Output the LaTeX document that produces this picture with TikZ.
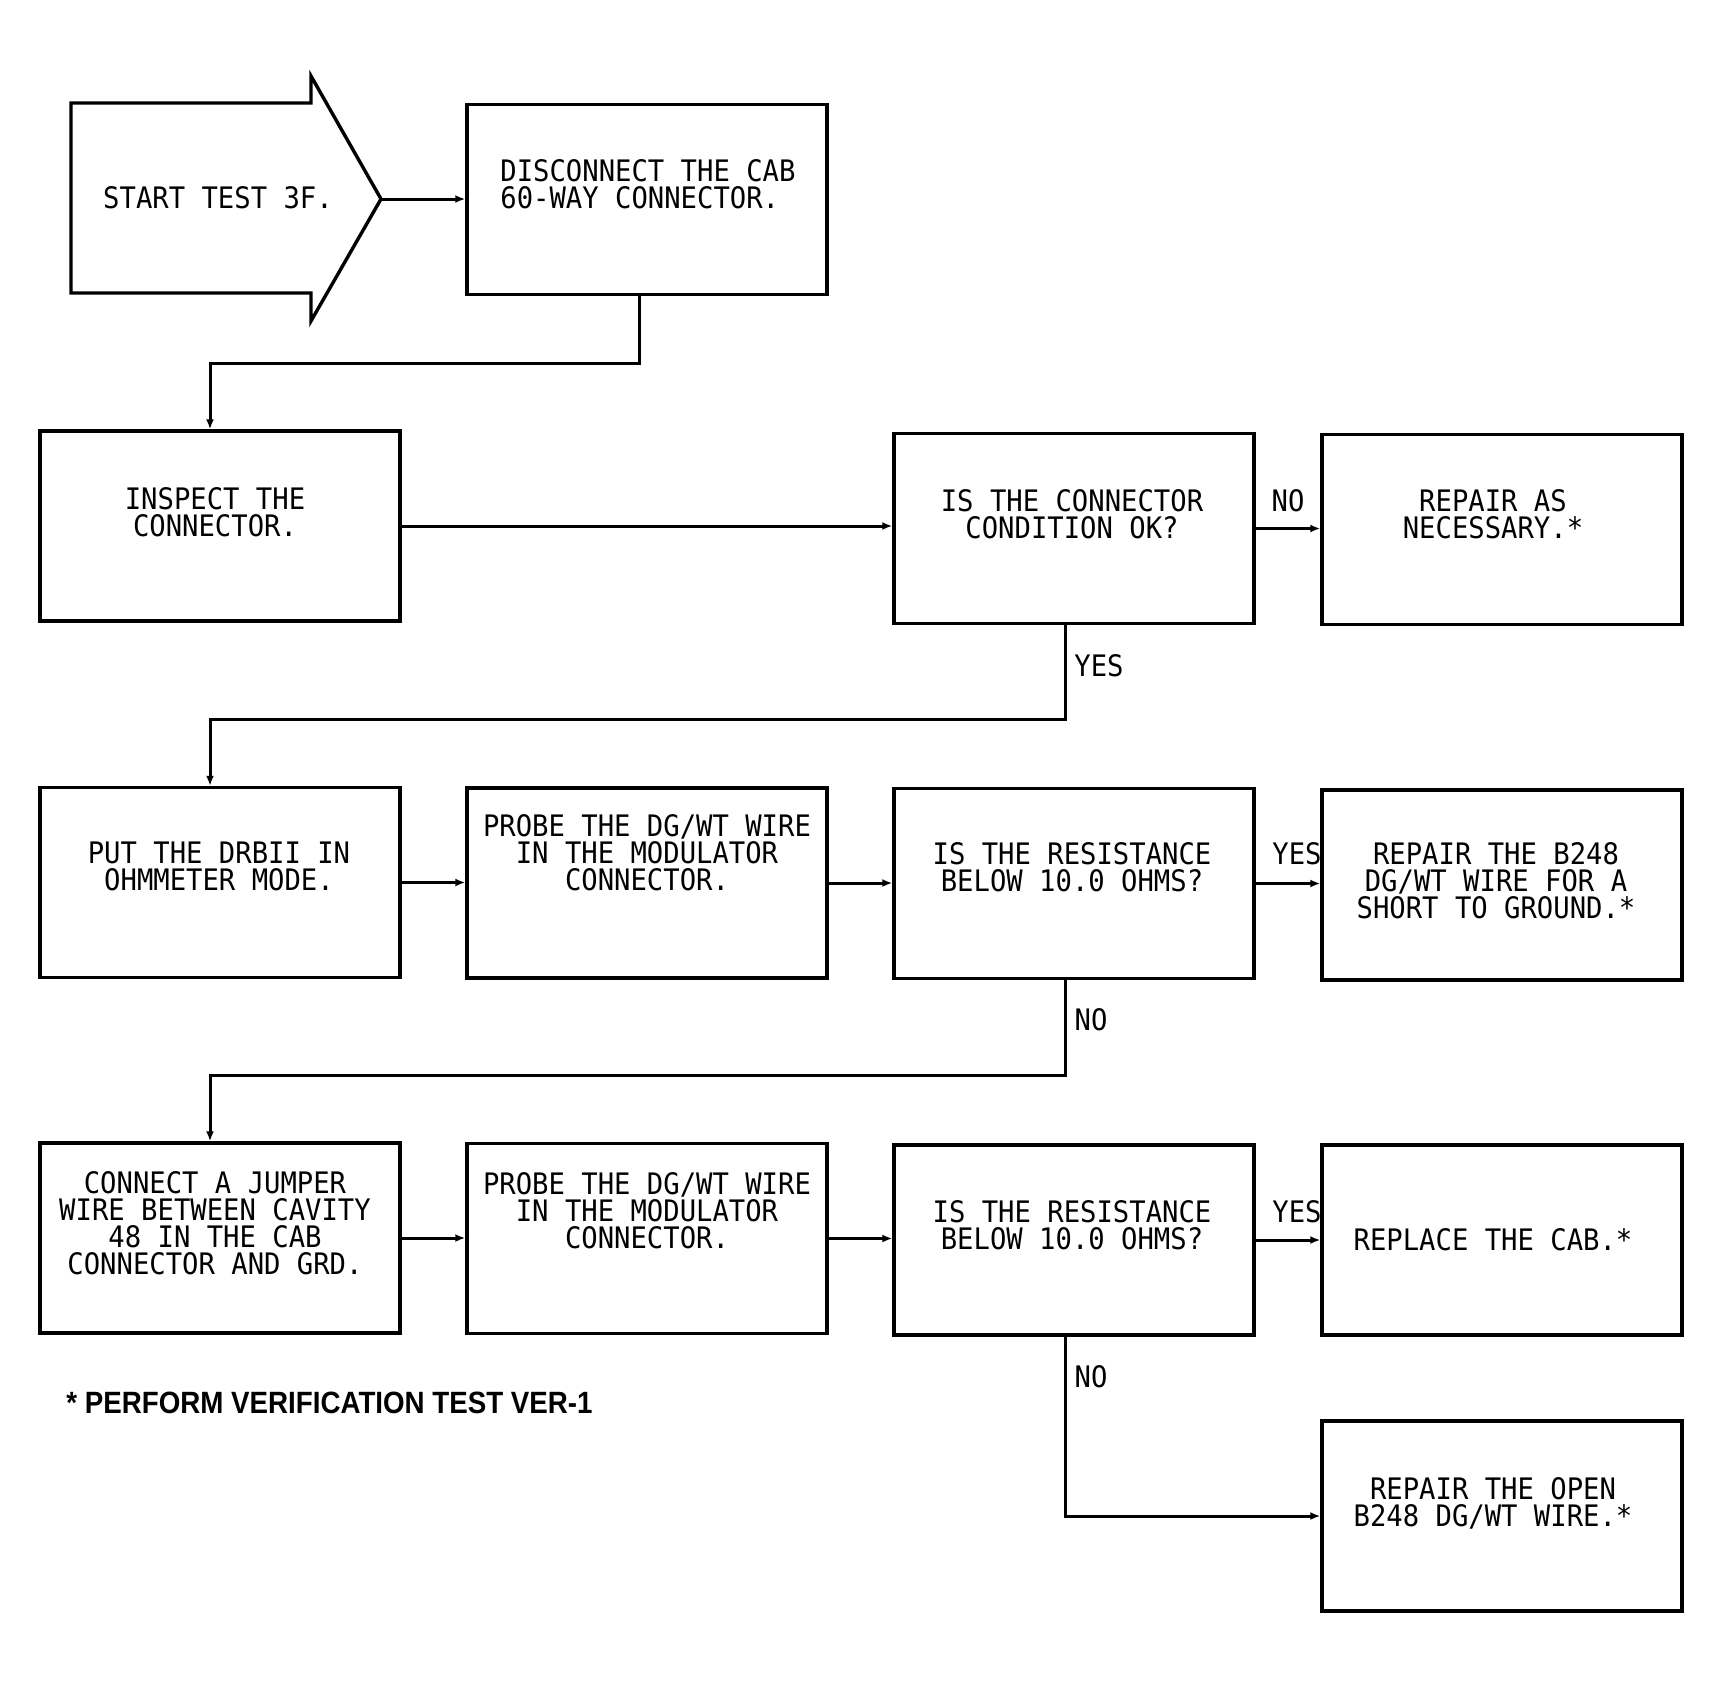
\documentclass[tikz,border=0pt]{standalone}
\usepackage{fontspec}
\newfontfamily\plotfont[FakeStretch=0.92]{DejaVu Sans Mono}
\newfontfamily\footfont[FakeStretch=0.9]{Liberation Sans}
\usetikzlibrary{arrows.meta,calc}
\newcommand{\fst}{\rule{0pt}{12pt}}
\newcommand{\plotsize}{\fontsize{14.8pt}{13.5pt}\selectfont}
\begin{document}
\begin{tikzpicture}[x=0.5pt,y=-0.5pt,
  box/.style={draw,line width=1.7pt,minimum width=180pt,minimum height=95pt,inner sep=0pt},
  txt/.style={anchor=north,inner sep=0pt,align=center,font=\plotfont\plotsize,
    execute at begin node={\lineskiplimit=-100pt\relax}},
  conn/.style={line width=1.5pt,-{Latex[length=5pt,width=4pt]}},
  outline/.style={line width=1.7pt,line join=miter}]
\useasboundingbox (0,0) rectangle (1719,1687);

% start arrow
\draw[outline] (71,103) -- (311,103) -- (311,76) -- (381,199) -- (311,321) -- (311,293) -- (71,293) -- cycle;
\coordinate (tip) at (381,199);
\node[txt] (tstart) at (218,183.8) {\fst START TEST 3F.};

% boxes
\node[box] (disc) at (647,199.5) {};
\node[box] (inspect) at (220,526) {};
\node[box] (cond) at (1074,528.5) {};
\node[box] (rep1) at (1502,529.5) {};
\node[box] (put) at (220,882.5) {};
\node[box] (probe1) at (647,883) {};
\node[box] (res1) at (1074,883.5) {};
\node[box] (rep2) at (1502,885) {};
\node[box] (connect) at (220,1238) {};
\node[box] (probe2) at (647,1238.5) {};
\node[box] (res2) at (1074,1240) {};
\node[box] (replace) at (1502,1240) {};
\node[box] (open) at (1502,1516) {};

% texts
\node[txt,anchor=north west,align=left] (tdisc) at (500,156.8) {\fst DISCONNECT THE CAB\\60-WAY CONNECTOR.};
\node[txt] (tinspect) at (215,484.8) {\fst INSPECT THE\\CONNECTOR.};
\node[txt] (tcond) at (1072,486.8) {\fst IS THE CONNECTOR\\CONDITION OK?};
\node[txt] (trep1) at (1493,486.8) {\fst REPAIR AS\\NECESSARY.*};
\node[txt] (tput) at (219,838.8) {\fst PUT THE DRBII IN\\OHMMETER MODE.};
\node[txt] (tprobe1) at (647,811.8) {\fst PROBE THE DG/WT WIRE\\IN THE MODULATOR\\CONNECTOR.};
\node[txt] (tres1) at (1072,839.8) {\fst IS THE RESISTANCE\\BELOW 10.0 OHMS?};
\node[txt] (trep2) at (1496,839.8) {\fst REPAIR THE B248\\DG/WT WIRE FOR A\\SHORT TO GROUND.*};
\node[txt] (tconnect) at (215,1168.8) {\fst CONNECT A JUMPER\\WIRE BETWEEN CAVITY\\48 IN THE CAB\\CONNECTOR AND GRD.};
\node[txt] (tprobe2) at (647,1169.8) {\fst PROBE THE DG/WT WIRE\\IN THE MODULATOR\\CONNECTOR.};
\node[txt] (tres2) at (1072,1197.8) {\fst IS THE RESISTANCE\\BELOW 10.0 OHMS?};
\node[txt] (treplace) at (1493,1225.8) {\fst REPLACE THE CAB.*};
\node[txt] (topen) at (1493,1474.8) {\fst REPAIR THE OPEN\\B248 DG/WT WIRE.*};

% branch labels
\node[txt] (no1) at (1288,486.8) {\fst NO};
\node[txt] (yes1) at (1099,651.8) {\fst YES};
\node[txt] (yes2) at (1297,839.8) {\fst YES};
\node[txt] (no2) at (1091,1005.8) {\fst NO};
\node[txt] (yes3) at (1297,1197.8) {\fst YES};
\node[txt] (no3) at (1091,1362.8) {\fst NO};

% footnote
\node[anchor=base west,inner sep=0pt,font=\footfont\bfseries\fontsize{15.4pt}{16pt}\selectfont] (foot) at (66,1413) {* PERFORM VERIFICATION TEST VER-1};

% connectors
\draw[conn] (tip) -- (tip -| disc.west);
\draw[conn] ([xshift=-4pt]disc.south) -- ++(0,67) -| ([xshift=-5pt]inspect.north);
\draw[conn] (inspect.east) -- (inspect.east -| cond.west);
\draw[conn] (cond.east) -- (cond.east -| rep1.west);
\draw[conn] ([xshift=-4.5pt]cond.south) -- ++(0,94.5) -| ([xshift=-5pt]put.north);
\draw[conn] (put.east) -- (put.east -| probe1.west);
\draw[conn] (probe1.east) -- (probe1.east -| res1.west);
\draw[conn] (res1.east) -- (res1.east -| rep2.west);
\draw[conn] ([xshift=-4.5pt]res1.south) -- ++(0,95) -| ([xshift=-5pt]connect.north);
\draw[conn] (connect.east) -- (connect.east -| probe2.west);
\draw[conn] (probe2.east) -- (probe2.east -| res2.west);
\draw[conn] (res2.east) -- (res2.east -| replace.west);
\draw[conn] ([xshift=-4.5pt]res2.south) |- (open.west);
\end{tikzpicture}
\end{document}
